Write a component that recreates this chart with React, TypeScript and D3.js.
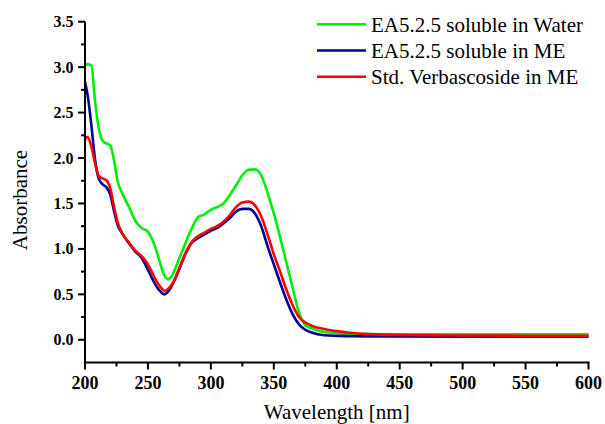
import React from 'react';
import * as d3 from 'd3';

// wavelength grid (nm) and absorbance
const wavelengths = [200, 202, 205, 208, 211, 214, 217, 220, 223, 226, 230, 235, 240, 245, 250, 255, 260, 263, 266, 270, 275, 280, 285, 290, 295, 300, 305, 310, 315, 320, 325, 330, 335, 340, 345, 350, 355, 360, 365, 370, 375, 380, 390, 400, 410, 425, 450, 500, 550, 600];

const waterEA = [3.02, 3.03, 3.02, 2.62, 2.32, 2.19, 2.16, 2.14, 1.98, 1.74, 1.6, 1.46, 1.31, 1.23, 1.19, 1.05, 0.83, 0.71, 0.665, 0.73, 0.9, 1.07, 1.23, 1.35, 1.38, 1.43, 1.46, 1.5, 1.59, 1.7, 1.81, 1.87, 1.875, 1.81, 1.62, 1.39, 1.13, 0.85, 0.57, 0.3, 0.16, 0.125, 0.085, 0.072, 0.066, 0.062, 0.06, 0.06, 0.06, 0.06];

const meEA = [2.84, 2.7, 2.37, 1.98, 1.77, 1.71, 1.68, 1.6, 1.42, 1.26, 1.16, 1.06, 0.97, 0.9, 0.77, 0.63, 0.53, 0.5, 0.53, 0.62, 0.78, 0.95, 1.07, 1.12, 1.16, 1.2, 1.23, 1.28, 1.34, 1.41, 1.44, 1.44, 1.39, 1.25, 1.03, 0.83, 0.63, 0.44, 0.28, 0.17, 0.11, 0.08, 0.05, 0.043, 0.04, 0.038, 0.036, 0.035, 0.035, 0.035];

const verbascoside = [2.21, 2.23, 2.13, 1.94, 1.8, 1.775, 1.755, 1.67, 1.47, 1.29, 1.16, 1.07, 0.98, 0.92, 0.83, 0.69, 0.58, 0.54, 0.56, 0.63, 0.79, 0.96, 1.08, 1.14, 1.18, 1.22, 1.25, 1.3, 1.37, 1.46, 1.51, 1.52, 1.48, 1.36, 1.16, 0.94, 0.75, 0.55, 0.38, 0.25, 0.19, 0.155, 0.118, 0.095, 0.078, 0.062, 0.052, 0.047, 0.045, 0.045];

const seriesNames = ['EA5.2.5 soluble in Water', 'EA5.2.5 soluble in ME', 'Std. Verbascoside in ME'];
const seriesColors = ['#00ee00', '#000099', '#ff0000'];

const xTicks = [200, 250, 300, 350, 400, 450, 500, 550, 600];
const xMinor = [225, 275, 325, 375, 425, 475, 525, 575];
const yTicks = [0, 0.5, 1, 1.5, 2, 2.5, 3, 3.5];
const yMinor = [0.25, 0.75, 1.25, 1.75, 2.25, 2.75, 3.25];

const font = '"Liberation Serif", "Times New Roman", serif';

function App() {
  const width = 605;
  const height = 424;
  const margin = { top: 21.7, right: 16.5, bottom: 61.5, left: 85 };

  const x = d3.scaleLinear()
    .domain([200, 600])
    .range([margin.left, width - margin.right]);
  const y = d3.scaleLinear()
    .domain([-0.25, 3.5])
    .range([height - margin.bottom, margin.top]);

  const line = d3.line<number>()
    .x((d, i) => x(wavelengths[i]))
    .y(d => y(d))
    .curve(d3.curveMonotoneX);

  const allSeries = [waterEA, meEA, verbascoside];
  const x0 = margin.left;
  const y0 = height - margin.bottom;
  const fmt = d3.format('.1f');

  return (
    <svg
      width={width}
      height={height}
      style={{ position: 'absolute', left: 0, top: 0, background: '#fff', display: 'block' }}
    >
      {allSeries.map((s, k) => (
        <path key={k} d={line(s) || ''} fill="none" stroke={seriesColors[k]}
          strokeWidth={2.6} strokeLinejoin="round" />
      ))}

      {/* x axis */}
      <g stroke="#000" strokeWidth={2}>
        <line x1={x(200) - 1} x2={x(600) + 1} y1={y0} y2={y0} />
        {xMinor.map(t => <line key={t} x1={x(t)} x2={x(t)} y1={y0} y2={y0 + 4} />)}
        {xTicks.map(t => <line key={t} x1={x(t)} x2={x(t)} y1={y0} y2={y0 + 7} />)}
      </g>
      {xTicks.map(t => (
        <text key={t} x={x(t)} y={389.3} textAnchor="middle"
          style={{ fontFamily: font, fontWeight: 'bold', fontSize: 18 }}>{t}</text>
      ))}

      {/* y axis */}
      <g stroke="#000" strokeWidth={2}>
        <line x1={x0} x2={x0} y1={y(3.5)} y2={y0 + 1} />
        {yMinor.map(t => <line key={t} x1={x0 - 4} x2={x0} y1={y(t)} y2={y(t)} />)}
        {yTicks.map(t => <line key={t} x1={x0 - 7} x2={x0} y1={y(t)} y2={y(t)} />)}
      </g>
      {yTicks.map(t => (
        <text key={t} x={x0 - 11.5} y={y(t) + 5.5} textAnchor="end"
          style={{ fontFamily: font, fontWeight: 'bold', fontSize: 16 }}>{fmt(t)}</text>
      ))}

      {/* axis titles */}
      <text x={(margin.left + width - margin.right) / 2} y={419} textAnchor="middle"
        style={{ fontFamily: font, fontSize: 21 }}>Wavelength [nm]</text>
      <text transform="translate(27,200) rotate(-90)" textAnchor="middle"
        style={{ fontFamily: font, fontSize: 21 }}>Absorbance</text>

      {/* legend */}
      {seriesNames.map((name, k) => {
        const ly = 24.3 + k * 26.2;
        return (
          <g key={name}>
            <line x1={317} x2={366} y1={ly} y2={ly} stroke={seriesColors[k]} strokeWidth={2.6} />
            <text x={371} y={ly + 7.4} style={{ fontFamily: font, fontSize: 21 }}>{name}</text>
          </g>
        );
      })}
    </svg>
  );
}

export default App;
